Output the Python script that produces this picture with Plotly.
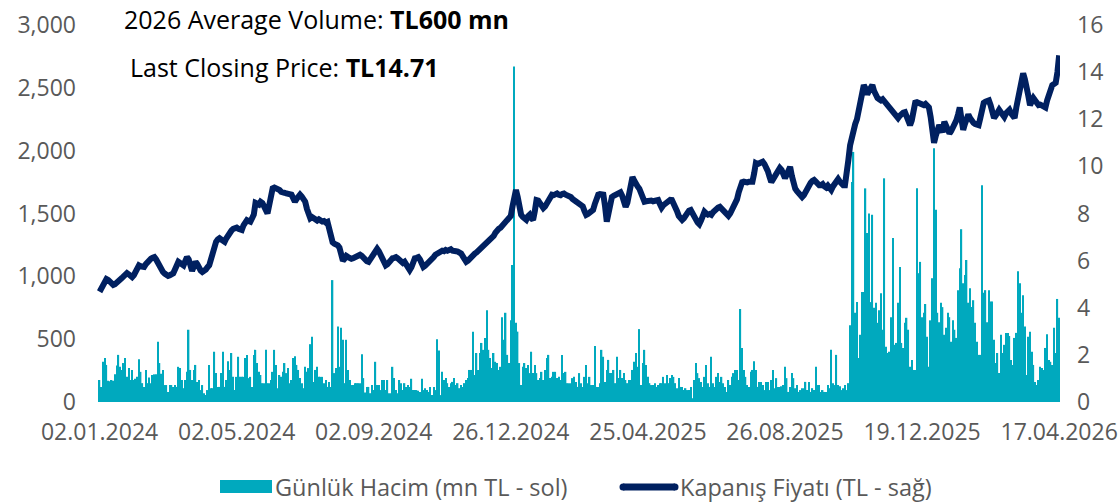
import plotly.graph_objects as go

# Axis labels: one date every 80 trading days
tick_labels = ["02.01.2024", "02.05.2024", "02.09.2024", "26.12.2024",
               "25.04.2025", "26.08.2025", "19.12.2025", "17.04.2026"]
tick_step = 80

# Daily traded value, mn TL (left axis)
volume_2024a = [
    175, 120, 320, 350, 295, 170, 165, 175, 170, 220,
    290, 375, 280, 255, 310, 350, 200, 270, 175, 255,
    175, 185, 200, 340, 240, 150, 120, 255, 150, 195,
    150, 215, 220, 220, 480, 310, 225, 255, 135, 135,
    80, 135, 135, 120, 135, 120, 280, 270, 175, 110,
    175, 240, 575, 255, 175, 255, 295, 160, 175, 95,
    135, 70, 55, 95, 295, 110, 110, 400, 230, 120,
    120, 230, 400, 120, 175, 325, 255, 390, 200, 95,
    200, 360, 200, 200, 200, 350, 375, 190,
]
volume_2024b = [
    200, 120, 375, 415, 310, 240, 215, 150, 150, 415,
    150, 150, 175, 240, 415, 295, 110, 215, 200,
    240, 310, 230, 270, 150, 175, 350, 365, 295, 255,
    190, 150, 110, 280, 240, 270, 460, 520, 160, 255,
    280, 200, 200, 200, 150, 175, 120, 160, 120, 970,
    230, 270, 600, 280, 590, 495, 150, 495, 255, 175,
    135, 135, 150, 150, 150, 150, 380, 190, 75,
    120, 120, 70, 135, 95, 320, 135, 135, 95, 175,
    175, 95, 175, 70, 70, 280, 190, 95, 70,
    175, 150, 95, 150, 120, 135, 120, 185, 95, 95,
]
volume_2024c = [
    95, 90, 80, 185, 95, 110, 95, 80, 120, 55,
    120, 95, 500, 410, 55, 240, 175, 190, 150, 120,
    150, 160, 190, 135, 150, 110, 135, 120, 150,
    175, 190, 255, 255, 560, 215, 390, 255, 390, 470,
    415, 510, 730, 415, 350, 270, 390, 320, 310, 255,
    280, 675, 495, 710, 375, 310, 650, 1090, 2670,
    630, 560, 310, 135, 280, 310, 270, 295, 230, 400,
    230, 295, 230, 175, 190, 240, 175, 255, 350, 375,
    190, 200, 240, 240, 190, 200, 175, 375, 230, 240, 150, 150,
]
volume_2025a = [
    150, 190, 200, 160, 120, 230, 150, 120, 200, 295,
    150, 200, 135, 135, 445, 120, 120, 150, 415, 360,
    160, 255, 335, 230, 230, 255, 150, 360, 190, 255,
    190, 230, 175, 150, 175, 175, 255, 320, 390, 280,
    580, 135, 310, 415, 295, 200, 150, 135, 135, 150,
    120, 135, 150, 150, 200, 150, 215, 150, 190,
    215, 200, 150, 110, 190, 120, 120, 95, 110, 95,
    95, 120, 30, 175, 310, 230, 190, 160, 120, 200,
    295, 150, 120, 360, 150, 120, 200, 230, 160,
    200, 150, 120, 80, 175, 135, 200, 230, 255, 255, 175, 740,
]
volume_2025b = [
    430, 255, 200, 135, 120, 240, 255, 325, 255, 120,
    160, 160, 135, 95, 160, 160, 95, 175, 255, 110,
    190, 120, 120, 125, 135, 280, 190, 80, 120, 230,
    190, 110, 135, 80, 95, 110, 110, 160, 95, 160,
    80, 110, 95, 280, 135, 135, 80, 95, 80,
    80, 135, 110, 415, 150, 135, 375, 135, 125, 95,
    110, 135, 95, 150, 610, 1750, 1990, 710, 795, 350,
    535, 875, 875, 1700, 1345, 1500, 795, 1490, 750, 790,
    630, 730, 865, 575, 1780, 440, 390, 400, 675,
    1305, 455, 470, 790, 1075,
]
volume_2026 = [
    470, 430, 630, 670, 575, 280, 335, 255, 255, 1700,
    1025, 1115, 675, 710, 780, 520, 280, 650, 985, 2020,
    1530, 710, 635, 790, 755, 535, 590, 710, 675, 480,
    650, 575, 510, 890, 1065, 1375, 945, 1010, 1130,
    790, 905, 755, 810, 630, 480, 375, 375, 1725, 870,
    890, 635, 890, 800, 800, 495, 310, 390, 230, 535,
    390, 455, 550, 550, 525, 335, 295, 510, 550,
    1040, 945, 710, 850, 600, 215, 520, 560, 400, 295,
    160, 135, 175, 280, 270, 255, 430, 540, 335,
    320, 295, 590, 390, 820, 670,
]
volume = (volume_2024a + volume_2024b + volume_2024c
          + volume_2025a + volume_2025b + volume_2026)

# Daily closing price, TL (right axis)
price = [
    4.68, 4.80, 4.95, 5.10, 5.22, 5.18, 5.10, 5.02, 4.97, 5.00,
    5.05, 5.12, 5.20, 5.26, 5.33, 5.40, 5.47, 5.42, 5.35, 5.30,
    5.38, 5.52, 5.68, 5.80, 5.76, 5.72, 5.73, 5.85, 5.95, 6.02,
    6.08, 6.12, 6.15, 6.05, 5.90, 5.72, 5.60, 5.52, 5.45, 5.40,
    5.35, 5.38, 5.42, 5.46, 5.62, 5.80, 5.95, 5.90, 5.82, 5.80,
    5.98, 6.15, 6.05, 5.80, 5.57, 5.75, 5.95, 5.85, 5.68, 5.58,
    5.52, 5.55, 5.62, 5.72, 5.80, 6.05, 6.38, 6.65, 6.80, 6.90,
    6.95, 6.90, 6.85, 6.80, 6.95, 7.10, 7.20, 7.28, 7.35, 7.38,
    7.40, 7.35, 7.32, 7.30, 7.50, 7.70, 7.72, 7.68, 7.65, 7.80,
    7.95, 8.45, 8.42, 8.38, 8.50, 8.45, 8.30, 8.15, 8.00, 8.35,
    8.80, 9.07, 9.10, 9.08, 9.07, 9.00, 8.92, 8.87, 8.88, 8.85,
    8.84, 8.82, 8.80, 8.65, 8.50, 8.62, 8.75, 8.80, 8.72, 8.60,
    8.50, 8.20, 7.95, 7.80, 7.85, 7.78, 7.72, 7.70, 7.75, 7.68,
    7.66, 7.68, 7.62, 7.65, 7.30, 6.90, 6.78, 6.72, 6.70, 6.65,
    6.55, 6.30, 6.00, 6.08, 6.20, 6.15, 6.10, 6.08, 6.10, 6.15,
    6.18, 6.22, 6.25, 6.20, 6.10, 6.02, 5.98, 5.95, 6.05, 6.20,
    6.30, 6.42, 6.50, 6.40, 6.22, 6.05, 5.90, 5.80, 5.85, 5.95,
    6.02, 6.10, 6.12, 6.15, 6.10, 6.00, 5.92, 5.90, 5.95, 5.80,
    5.70, 5.60, 5.72, 5.95, 6.10, 6.12, 6.15, 6.05, 5.80, 5.73,
    5.78, 5.85, 5.90, 5.95, 6.05, 6.15, 6.25, 6.30, 6.35, 6.40,
    6.42, 6.40, 6.45, 6.42, 6.45, 6.48, 6.42, 6.38, 6.40, 6.38,
    6.37, 6.30, 6.18, 6.05, 5.95, 6.00, 6.10, 6.18, 6.25, 6.30,
    6.35, 6.42, 6.50, 6.58, 6.62, 6.70, 6.75, 6.80, 6.87, 6.95,
    7.05, 7.18, 7.30, 7.35, 7.40, 7.48, 7.55, 7.60, 7.65, 7.73,
    7.90, 8.30, 8.75, 9.00, 8.70, 8.10, 7.95, 7.85, 7.80, 7.73,
    7.88, 7.95, 7.80, 7.73, 8.10, 8.57, 8.55, 8.40, 8.30, 8.23,
    8.30, 8.45, 8.60, 8.72, 8.80, 8.78, 8.82, 8.85, 8.80, 8.78,
    8.83, 8.85, 8.80, 8.78, 8.72, 8.70, 8.62, 8.57, 8.50, 8.45,
    8.45, 8.40, 8.30, 8.10, 7.94, 7.98, 8.05, 8.10, 8.15, 8.40,
    8.70, 8.80, 8.82, 8.78, 8.80, 8.30, 7.65, 8.00, 8.45, 8.70,
    8.75, 8.80, 8.85, 8.88, 8.90, 8.75, 8.50, 8.28, 8.45, 8.80,
    9.20, 9.55, 9.40, 9.20, 9.15, 9.05, 8.85, 8.65, 8.50, 8.52,
    8.55, 8.58, 8.55, 8.52, 8.55, 8.60, 8.57, 8.40, 8.25, 8.35,
    8.42, 8.50, 8.55, 8.58, 8.57, 8.45, 8.30, 8.10, 7.90, 7.80,
    7.73, 7.80, 7.95, 8.05, 8.12, 8.15, 8.05, 7.90, 7.75, 7.62,
    7.55, 7.70, 7.90, 8.07, 8.00, 7.95, 7.98, 7.94, 8.05, 8.15,
    8.20, 8.25, 8.28, 8.20, 8.10, 8.00, 7.95, 7.90, 8.00, 8.15,
    8.30, 8.45, 8.60, 8.90, 9.15, 9.33, 9.35, 9.30, 9.32, 9.35,
    9.33, 9.35, 9.70, 10.14, 10.10, 10.15, 10.18, 10.20, 10.10, 9.98,
    9.80, 9.55, 9.33, 9.45, 9.60, 9.75, 9.88, 9.93, 9.85, 9.70,
    9.50, 9.65, 9.85, 9.98, 9.60, 9.20, 9.05, 8.95, 8.85, 8.75,
    8.70, 8.78, 8.95, 9.10, 9.20, 9.30, 9.38, 9.42, 9.35, 9.25,
    9.20, 9.20, 9.25, 9.15, 9.10, 9.18, 9.05, 9.00, 9.15, 9.30,
    9.40, 9.46, 9.35, 9.25, 9.20, 9.20, 9.60, 10.27, 10.90, 11.30,
    11.50, 11.80, 12.00, 12.35, 12.70, 13.10, 13.45, 13.30, 13.05, 13.20,
    13.40, 13.45, 13.20, 12.95, 12.90, 12.85, 12.80, 12.85, 12.75, 12.70,
    12.65, 12.55, 12.40, 12.25, 12.15, 12.10, 12.05, 12.15, 12.25, 12.28,
    12.30, 12.10, 11.90, 11.75, 11.95, 12.35, 12.70, 12.72, 12.68, 12.65,
    12.62, 12.60, 12.65, 12.55, 12.50, 12.10, 11.50, 11.00, 11.30, 11.55,
    11.75, 11.60, 11.45, 11.90, 11.70, 11.55, 11.40, 11.50, 11.62, 11.75,
    11.95, 12.20, 12.50, 12.00, 11.55, 11.80, 12.05, 12.20, 12.05, 11.90,
    11.85, 11.80, 11.78, 11.75, 12.05, 12.40, 12.70, 12.75, 12.80, 12.80,
    12.60, 12.30, 12.05, 12.15, 12.30, 12.40, 12.30, 12.20, 12.10, 12.25,
    12.35, 12.40, 12.25, 12.10, 12.05, 12.50, 12.90, 13.25, 13.60, 13.95,
    13.70, 13.45, 13.00, 12.60, 12.75, 12.90, 12.80, 12.70, 12.60, 12.62,
    12.60, 12.55, 12.50, 12.80, 13.10, 13.40, 13.45, 13.50, 13.55, 14.00, 14.71,
]

avg_volume_2026 = "TL600 mn"
last_close = price[-1]

BAR_COLOR = "#00A9BE"
LINE_COLOR = "#002060"
GREY = "#595959"
FONT = "Open Sans"

days = list(range(len(price)))
n = len(price)

fig = go.Figure()
fig.add_trace(go.Bar(
    x=list(range(len(volume))), y=volume, marker_color=BAR_COLOR,
    marker_line_width=0, yaxis="y", showlegend=False,
))
fig.add_trace(go.Scatter(
    x=days, y=price, mode="lines", yaxis="y2", showlegend=False,
    line=dict(color=LINE_COLOR, width=6, shape="linear"),
))

# plot area in pixels, used to place the hand-built legend and notes
L, R, T, B = 97, 1060, 25, 402
W, H = R - L, B - T


def px(x):
    return (x - L) / W


def py(y):
    return (B - y) / H


fig.update_layout(
    width=1119, height=503,
    margin=dict(l=L, r=1119 - R, t=T, b=503 - B, autoexpand=False),
    paper_bgcolor="white", plot_bgcolor="white",
    bargap=0.18,
    font=dict(family=FONT, color=GREY, size=23),
    xaxis=dict(
        range=[-1.5, n - 0.5], tickmode="array",
        tickvals=[i * tick_step for i in range(len(tick_labels))],
        ticktext=tick_labels, showgrid=False, zeroline=False,
        showline=False, ticks="", ticklabelstandoff=14,
        ticklabeloverflow="allow",
        tickfont=dict(size=23, color=GREY),
    ),
    yaxis=dict(
        range=[0, 3000], tickvals=list(range(0, 3001, 500)),
        tickformat=",d", showgrid=False, zeroline=False, showline=False,
        ticks="", ticklabelstandoff=20, tickfont=dict(size=23, color=GREY),
    ),
    yaxis2=dict(
        range=[0, 16], tickvals=list(range(0, 17, 2)), overlaying="y",
        side="right", showgrid=False, zeroline=False, showline=False,
        ticks="", ticklabelstandoff=16, tickfont=dict(size=23, color=GREY),
    ),
    annotations=[
        dict(xref="paper", yref="paper", x=px(123), y=py(0.5),
             xanchor="left", yanchor="top", showarrow=False, borderpad=0,
             text=f"2026 Average Volume: <b>{avg_volume_2026}</b>",
             font=dict(family=FONT, size=25, color="black")),
        dict(xref="paper", yref="paper", x=px(128), y=py(67),
             xanchor="left", yanchor="middle", showarrow=False,
             text=f"Last Closing Price: <b>TL{last_close:.2f}</b>",
             font=dict(family=FONT, size=25, color="black")),
        dict(xref="paper", yref="paper", x=px(273), y=py(487),
             xanchor="left", yanchor="middle", showarrow=False,
             text="Günlük Hacim (mn TL - sol)",
             font=dict(family=FONT, size=23.5, color=GREY)),
        dict(xref="paper", yref="paper", x=px(678), y=py(487),
             xanchor="left", yanchor="middle", showarrow=False,
             text="Kapanış Fiyatı (TL - sağ)",
             font=dict(family=FONT, size=23.5, color=GREY)),
    ],
    shapes=[
        dict(type="rect", xref="paper", yref="paper",
             x0=px(220), x1=px(272), y0=py(493), y1=py(480),
             fillcolor=BAR_COLOR, line_width=0),
        dict(type="line", xref="paper", yref="paper",
             x0=px(623), x1=px(675), y0=py(487), y1=py(487),
             line=dict(color=LINE_COLOR, width=7)),
        dict(type="circle", xref="paper", yref="paper",
             x0=px(619.5), x1=px(626.5), y0=py(490.5), y1=py(483.5),
             fillcolor=LINE_COLOR, line_width=0),
        dict(type="circle", xref="paper", yref="paper",
             x0=px(671.5), x1=px(678.5), y0=py(490.5), y1=py(483.5),
             fillcolor=LINE_COLOR, line_width=0),
    ],
)

fig.write_html("out.html")
